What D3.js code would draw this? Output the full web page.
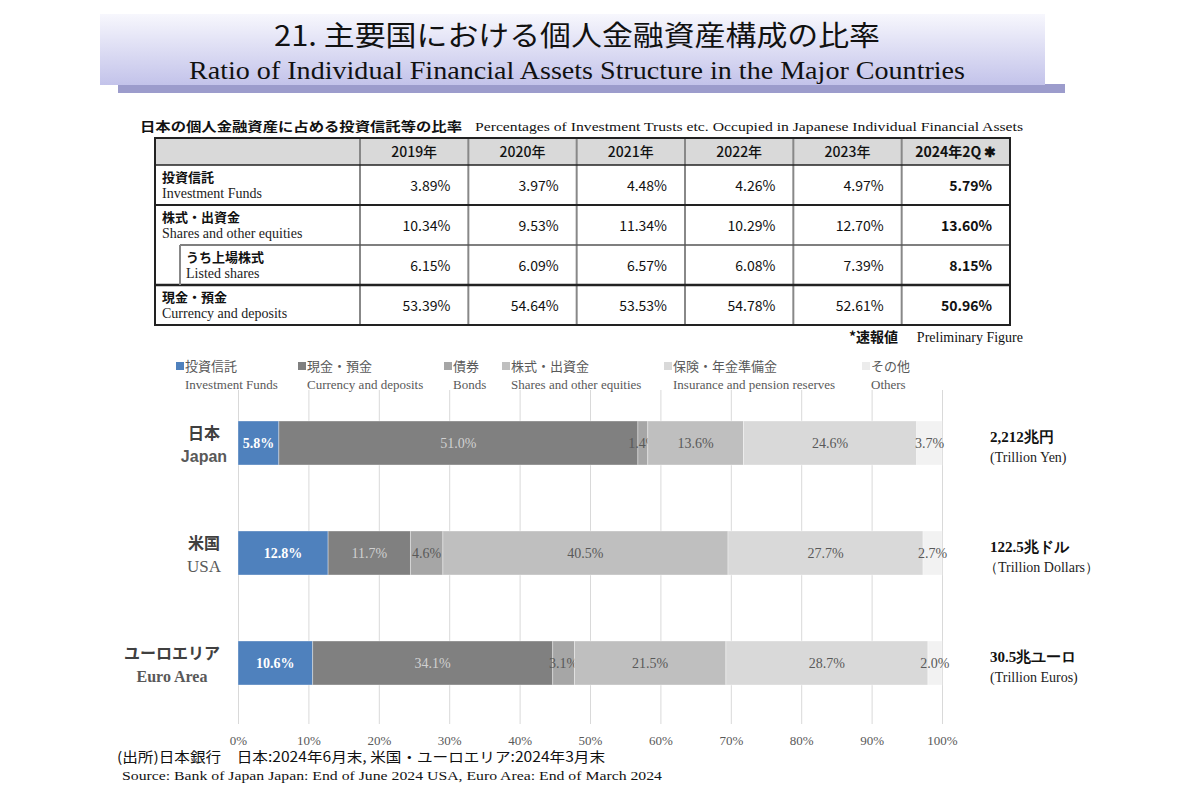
<!DOCTYPE html>
<html><head><meta charset="utf-8">
<script src="https://cdn.jsdelivr.net/npm/d3@7"></script>
<style>
body{margin:0;background:#fff;}
svg{display:block;}
</style></head>
<body>
<svg id="c" width="1200" height="800"></svg>
<script>
// ---------- DATA ----------
const titleJa = "21. 主要国における個人金融資産構成の比率";
const titleEn = "Ratio of Individual Financial Assets Structure in the Major Countries";
const tableCaptionJa = "日本の個人金融資産に占める投資信託等の比率";
const tableCaptionEn = "Percentages of Investment Trusts etc. Occupied in Japanese Individual Financial Assets";
const tableYears = ["2019年","2020年","2021年","2022年","2023年","2024年2Q ✱"];
const tableRowJa = ["投資信託","株式・出資金","うち上場株式","現金・預金"];
const tableRowEn = ["Investment Funds","Shares and other equities","Listed shares","Currency and deposits"];
const investmentFundsPct = [3.89,3.97,4.48,4.26,4.97,5.79];
const sharesPct = [10.34,9.53,11.34,10.29,12.70,13.60];
const listedSharesPct = [6.15,6.09,6.57,6.08,7.39,8.15];
const currencyPct = [53.39,54.64,53.53,54.78,52.61,50.96];
const tableNoteJa = "*速報値";
const tableNoteEn = "Preliminary Figure";

const seriesJa = ["投資信託","現金・預金","債券","株式・出資金","保険・年金準備金","その他"];
const seriesEn = ["Investment Funds","Currency and deposits","Bonds","Shares and other equities","Insurance and pension reserves","Others"];
const countriesJa = ["日本","米国","ユーロエリア"];
const countriesEn = ["Japan","USA","Euro Area"];
const japanVals = [5.8,51.0,1.4,13.6,24.6,3.7];
const usaVals = [12.8,11.7,4.6,40.5,27.7,2.7];
const euroVals = [10.6,34.1,3.1,21.5,28.7,2.0];
const totalsJa = ["2,212兆円","122.5兆ドル","30.5兆ユーロ"];
const totalsEn = ["(Trillion Yen)","（Trillion Dollars）","(Trillion Euros)"];
const xTicks = [0,10,20,30,40,50,60,70,80,90,100];
const sourceJa = "(出所)日本銀行　日本:2024年6月末,  米国・ユーロエリア:2024年3月末";
const sourceEn = "Source: Bank of Japan  Japan: End of June 2024 USA, Euro Area: End of March 2024";

// ---------- STYLE ----------
const colors = ["#4f81bd","#808080","#a6a6a6","#bfbfbf","#d9d9d9","#f2f2f2"];
const SANS = "'Noto Sans CJK JP', 'Liberation Sans', sans-serif";
const SERIF = "'Liberation Serif', serif";
const svg = d3.select("#c");

// ---------- TITLE BANNER ----------
const defs = svg.append("defs");
const g1 = defs.append("linearGradient").attr("id","bn").attr("x1",0).attr("y1",0).attr("x2",0).attr("y2",1);
g1.append("stop").attr("offset","0%").attr("stop-color","#f7f7fd");
g1.append("stop").attr("offset","100%").attr("stop-color","#c3c3ea");
svg.append("rect").attr("x",118).attr("y",84).attr("width",947).attr("height",9).attr("fill","#9c9ccc");
svg.append("rect").attr("x",100).attr("y",14).attr("width",945).attr("height",71).attr("fill","url(#bn)");
svg.append("text").attr("x",577).attr("y",46).attr("text-anchor","middle")
  .attr("font-family",SANS).attr("font-size",28).attr("fill","#111")
  .attr("textLength",606).attr("lengthAdjust","spacingAndGlyphs").text(titleJa);
svg.append("text").attr("x",577).attr("y",79).attr("text-anchor","middle")
  .attr("font-family",SERIF).attr("font-size",25).attr("fill","#111")
  .attr("textLength",776).attr("lengthAdjust","spacingAndGlyphs").text(titleEn);

// ---------- TABLE ----------
svg.append("text").attr("x",140).attr("y",131).attr("font-family",SANS).attr("font-size",13).attr("font-weight","bold").attr("fill","#111")
  .attr("textLength",322).attr("lengthAdjust","spacingAndGlyphs").text(tableCaptionJa);
svg.append("text").attr("x",475).attr("y",131).attr("font-family",SERIF).attr("font-size",13).attr("fill","#111")
  .attr("textLength",548).attr("lengthAdjust","spacingAndGlyphs").text(tableCaptionEn);

const tL = 155, tR = 1010, c0 = 360;
const colX = d3.scaleBand().domain(tableYears).range([c0, tR]);
const rowY = d3.scaleBand().domain(d3.range(4)).range([165, 325]);
const headTop = 138, headBot = 165;
const tableVals = [investmentFundsPct, sharesPct, listedSharesPct, currencyPct];
const tg = svg.append("g");
tg.append("rect").attr("x",tL).attr("y",headTop).attr("width",tR-tL).attr("height",headBot-headTop).attr("fill","#d9d9d9");
tableYears.forEach(y=>{
  tg.append("line").attr("x1",colX(y)).attr("x2",colX(y)).attr("y1",headTop).attr("y2",325)
    .attr("stroke","#888").attr("stroke-width",2);
});
tg.append("line").attr("x1",tL).attr("x2",tR).attr("y1",headBot).attr("y2",headBot).attr("stroke","#222").attr("stroke-width",1.5);
tg.append("line").attr("x1",tL).attr("x2",tR).attr("y1",rowY(1)).attr("y2",rowY(1)).attr("stroke","#222").attr("stroke-width",2);
tg.append("line").attr("x1",180).attr("x2",tR).attr("y1",rowY(2)).attr("y2",rowY(2)).attr("stroke","#555").attr("stroke-width",1.5);
tg.append("line").attr("x1",tL).attr("x2",tR).attr("y1",rowY(3)).attr("y2",rowY(3)).attr("stroke","#222").attr("stroke-width",2.5);
tg.append("line").attr("x1",180).attr("x2",180).attr("y1",rowY(2)).attr("y2",rowY(3)).attr("stroke","#888").attr("stroke-width",2);
tg.append("rect").attr("x",tL).attr("y",headTop).attr("width",tR-tL).attr("height",325-headTop)
  .attr("fill","none").attr("stroke","#222").attr("stroke-width",2);
tableYears.forEach((y,i)=>{
  tg.append("text").attr("x",colX(y)+colX.bandwidth()/2).attr("y",157).attr("text-anchor","middle")
    .attr("font-family",SANS).attr("font-size",14).attr("font-weight", i===5?"bold":"500").attr("fill","#111").text(y);
});
tableRowJa.forEach((lab,r)=>{
  const x0 = r===2 ? 186 : 162;
  const top = rowY(r);
  tg.append("text").attr("x",x0).attr("y",top+17).attr("font-family",SANS).attr("font-size",13).attr("font-weight","bold").attr("fill","#111").text(lab);
  tg.append("text").attr("x",x0).attr("y",top+33).attr("font-family",SERIF).attr("font-size",14).attr("fill","#222").text(tableRowEn[r]);
  tableVals[r].forEach((v,i)=>{
    tg.append("text").attr("x",colX(tableYears[i])+colX.bandwidth()-18).attr("y",top+rowY.bandwidth()/2+6)
      .attr("text-anchor","end").attr("font-family",SANS).attr("font-size",14)
      .attr("font-weight", i===5?"bold":"normal").attr("fill","#111").text(v.toFixed(2)+"%");
  });
});
svg.append("text").attr("x",898).attr("y",342).attr("text-anchor","end").attr("font-family",SANS).attr("font-size",14).attr("font-weight","bold").attr("fill","#111").text(tableNoteJa);
svg.append("text").attr("x",1023).attr("y",342).attr("text-anchor","end").attr("font-family",SERIF).attr("font-size",14).attr("fill","#111").text(tableNoteEn);

// ---------- CHART ----------
const x = d3.scaleLinear().domain([0,100]).range([238,942]);
const y = d3.scaleBand().domain(countriesJa).range([388,718]).paddingInner(0.6).paddingOuter(0.3);
const allVals = [japanVals, usaVals, euroVals];

const grid = svg.append("g").attr("transform","translate(0,724)")
  .call(d3.axisBottom(x).tickValues(xTicks).tickSize(-(724-390)).tickFormat(""));
grid.select(".domain").remove();
grid.selectAll("line").attr("stroke","#d9d9d9").attr("stroke-width",1);

const ax = svg.append("g").attr("transform","translate(0,730)")
  .call(d3.axisBottom(x).tickValues(xTicks).tickSize(0).tickFormat(d=>d+"%"));
ax.select(".domain").remove();
ax.selectAll("text").attr("font-family",SERIF).attr("font-size",13).attr("fill","#595959").attr("dy","0.9em");

const legX = [176,298,444,502,664,862];
const lg = svg.append("g");
seriesJa.forEach((s,i)=>{
  lg.append("rect").attr("x",legX[i]).attr("y",362).attr("width",8).attr("height",8).attr("fill",colors[i]==="#f2f2f2"?"#ececec":colors[i]);
  lg.append("text").attr("x",legX[i]+9).attr("y",371).attr("font-family",SANS).attr("font-size",13).attr("fill","#595959").text(s);
  lg.append("text").attr("x",legX[i]+9).attr("y",389).attr("font-family",SERIF).attr("font-size",13).attr("fill","#595959").text(seriesEn[i]);
});

countriesJa.forEach((c,ci)=>{
  const vals = allVals[ci];
  let acc = 0;
  vals.forEach((v,i)=>{
    const x0 = x(acc), x1 = x(Math.min(100, acc+v));
    svg.append("rect").attr("x",x0).attr("y",y(c)).attr("width",Math.max(0,x1-x0)).attr("height",y.bandwidth())
      .attr("fill",colors[i]).attr("stroke","#ffffff").attr("stroke-opacity",0.35).attr("stroke-width",1);
    const cx = x(acc + v/2);
    svg.append("text").attr("x",cx).attr("y",y(c)+y.bandwidth()/2+5).attr("text-anchor","middle")
      .attr("font-family",SERIF).attr("font-size",14)
      .attr("font-weight", i===0?"bold":"normal")
      .attr("fill", i===0?"#ffffff":(i===1?"#d0d0d0":"#595959"))
      .text(v.toFixed(1)+"%");
    acc += v;
  });
  const cy = y(c)+y.bandwidth()/2;
  const jt = svg.append("text").attr("x",220).attr("y",cy-4).attr("text-anchor","end")
    .attr("font-family",SANS).attr("font-size",16).attr("font-weight","bold").attr("fill","#404040").text(c);
  const bb = jt.node().getBBox();
  svg.append("text").attr("x",bb.x+bb.width/2).attr("y",cy+19).attr("text-anchor","middle")
    .attr("font-family", ci===0?"'Liberation Sans', sans-serif":SERIF).attr("font-size",ci===1?17:16)
    .attr("font-weight", ci===1?"normal":"bold").attr("fill","#595959").text(countriesEn[ci]);
  svg.append("text").attr("x",990).attr("y",cy-1).attr("font-family",SERIF).attr("font-size",15).attr("font-weight","bold").attr("fill","#111").text(totalsJa[ci]);
  svg.append("text").attr("x",ci===1?984:990).attr("y",cy+19).attr("font-family",SERIF).attr("font-size",14).attr("fill","#222").text(totalsEn[ci]);
});

svg.append("text").attr("x",117).attr("y",762).attr("font-family",SANS).attr("font-size",14).attr("fill","#111")
  .attr("textLength",488).attr("lengthAdjust","spacingAndGlyphs").text(sourceJa);
svg.append("text").attr("x",122).attr("y",780).attr("font-family",SERIF).attr("font-size",13).attr("fill","#111")
  .attr("textLength",540).attr("lengthAdjust","spacingAndGlyphs").text(sourceEn);
</script>
</body></html>
